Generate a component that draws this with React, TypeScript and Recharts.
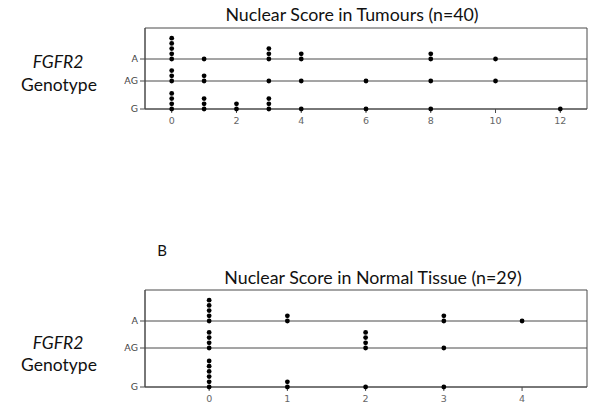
import React from 'react';
import { ScatterChart, Scatter, XAxis, YAxis, ReferenceLine, ReferenceArea } from 'recharts';

// ---- data ----
const genotypes = ['A', 'AG', 'G'];

const tumourScores = [0, 1, 2, 3, 4, 6, 8, 10, 12];
const tumourA = [5, 1, 0, 3, 2, 0, 2, 1, 0];
const tumourAG = [3, 2, 0, 1, 1, 1, 1, 1, 0];
const tumourG = [4, 3, 2, 3, 1, 1, 1, 0, 1];
const tumourTicks = [0, 2, 4, 6, 8, 10, 12];

const normalScores = [0, 1, 2, 3, 4];
const normalA = [5, 2, 0, 2, 1];
const normalAG = [4, 0, 4, 1, 0];
const normalG = [6, 2, 1, 1, 0];
const normalTicks = [0, 1, 2, 3, 4];

// ---- layout (stack units) ----
const DOT_STEP = 5.2;
const TUMOUR_ROWS: Record<string, number> = { A: 50, AG: 28, G: 0 };
const NORMAL_ROWS: Record<string, number> = { A: 66, AG: 39, G: 0 };

const LINE = '#4a4a4a';
const TXT = '#444';
const FONT = 'Lato, "Open Sans", sans-serif';
const TICK_FONT = '"DejaVu Sans", Verdana, sans-serif';

function buildPoints(scores: number[], counts: number[], base: number) {
  const pts: { x: number; y: number }[] = [];
  scores.forEach((s, i) => {
    for (let k = 0; k < counts[i]; k++) pts.push({ x: s, y: base + k * DOT_STEP });
  });
  return pts;
}

const Dot = (p: any) => <circle cx={p.cx} cy={p.cy} r={2.4} fill="#000" />;

function DotPlot(props: {
  top: number; height: number; marginTop: number; marginBottom: number;
  xDomain: [number, number]; yMax: number; rows: Record<string, number>;
  scores: number[]; series: number[][]; ticks: number[];
}) {
  const { rows, xDomain, yMax } = props;
  const labelOf = (v: number) => genotypes.find((g) => rows[g] === v) || '';
  const yTicks = genotypes.map((g) => rows[g]).sort((a, b) => a - b);
  return (
    <div style={{ position: 'absolute', left: 0, top: props.top }}>
      <ScatterChart width={600} height={props.height}
        margin={{ top: props.marginTop, right: 13, left: 120, bottom: props.marginBottom }}>
        <XAxis type="number" dataKey="x" domain={xDomain} ticks={props.ticks}
          height={20} axisLine={{ stroke: LINE }} tickLine={{ stroke: LINE }} tickSize={4} tickMargin={4}
          tick={{ fill: '#666', fontSize: 9.5, fontFamily: TICK_FONT }} />
        <YAxis type="number" dataKey="y" domain={[0, yMax]} ticks={yTicks}
          width={25} axisLine={{ stroke: LINE }} tickLine={{ stroke: LINE }} tickSize={5}
          tickFormatter={labelOf}
          tick={{ fill: TXT, fontSize: 9.5, fontFamily: TICK_FONT }} />
        <ReferenceArea x1={xDomain[0]} x2={xDomain[1]} y1={0} y2={yMax} fill="none" fillOpacity={0}
          stroke={LINE} strokeWidth={1} ifOverflow="visible" />
        <ReferenceLine y={rows.A} stroke={LINE} strokeWidth={1} />
        <ReferenceLine y={rows.AG} stroke={LINE} strokeWidth={1} />
        {genotypes.map((g, i) => (
          <Scatter key={g} data={buildPoints(props.scores, props.series[i], rows[g])}
            shape={Dot} isAnimationActive={false} />
        ))}
      </ScatterChart>
    </div>
  );
}

const absText = (x: number, y: number, size: number, text: string, italic = false) => (
  <div style={{
    position: 'absolute', left: x - 200, top: y - size * 0.7, width: 400, textAlign: 'center',
    fontSize: size, fontFamily: FONT, fontStyle: italic ? 'italic' : 'normal', color: '#111',
    lineHeight: `${size * 1.4}px`, whiteSpace: 'nowrap',
  }}>{text}</div>
);

export default function App() {
  return (
    <div style={{ position: 'absolute', left: 0, top: 0, width: 600, height: 412, background: '#fff', overflow: 'hidden' }}>
      {absText(352, 14, 17.8, 'Nuclear Score in Tumours (n=40)')}
      {absText(58, 62, 17.5, 'FGFR2', true)}
      {absText(59, 85, 17.5, 'Genotype')}
      <DotPlot top={0} height={130} marginTop={28} marginBottom={1}
        xDomain={[-0.825, 12.825]} yMax={81} rows={TUMOUR_ROWS}
        scores={tumourScores} series={[tumourA, tumourAG, tumourG]} ticks={tumourTicks} />

      {absText(162, 250, 15, 'B')}
      {absText(373, 277, 17.8, 'Nuclear Score in Normal Tissue (n=29)')}
      {absText(58, 343, 17.5, 'FGFR2', true)}
      {absText(59, 365, 17.5, 'Genotype')}
      <DotPlot top={262} height={150} marginTop={28} marginBottom={5}
        xDomain={[-0.82, 4.83]} yMax={97} rows={NORMAL_ROWS}
        scores={normalScores} series={[normalA, normalAG, normalG]} ticks={normalTicks} />
    </div>
  );
}
